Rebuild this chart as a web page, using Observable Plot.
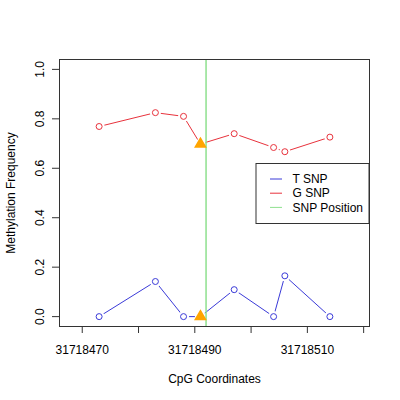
<!DOCTYPE html>
<html>
<head>
<meta charset="utf-8">
<script src="https://cdn.jsdelivr.net/npm/d3@7"></script>
<script src="https://cdn.jsdelivr.net/npm/@observablehq/plot@0.6"></script>
<style>
  html, body { margin: 0; padding: 0; background: #fff; }
  #chart { width: 400px; height: 400px; }
</style>
</head>
<body>
<div id="chart"></div>
<script>
// ---- data ----
const positions = [31718473, 31718483, 31718488, 31718491, 31718497, 31718504, 31718506, 31718514];
const tSnp = [0, 0.142, 0, 0, 0.109, 0, 0.165, 0];
const gSnp = [0.769, 0.825, 0.810, 0.698, 0.740, 0.684, 0.667, 0.726];
const snpCpG = 31718491;        // CpG marked with triangle
const snpPosition = 31718492;   // green vertical line
const xTicks = [31718470, 31718480, 31718490, 31718500, 31718510, 31718520];
const xTickLabels = ["31718470", "", "31718490", "", "31718510", ""];
const yTicks = [0, 0.2, 0.4, 0.6, 0.8, 1.0];
const yTickLabels = ["0.0", "0.2", "0.4", "0.6", "0.8", "1.0"];
const seriesNames = ["T SNP", "G SNP", "SNP Position"];
const seriesColors = ["#3a3ad8", "#e8323c", "#8ee08e"];

// ---- tables ----
const tRows = positions.map((p, i) => ({x: p, y: tSnp[i], s: "T"}));
const gRows = positions.map((p, i) => ({x: p, y: gSnp[i], s: "G"}));
const allRows = tRows.concat(gRows);
const circleRows = allRows.filter(d => d.x !== snpCpG);
const triRows = allRows.filter(d => d.x === snpCpG);

const xMin = 31718468, xMax = 31718519;
const pad = (xMax - xMin) * 0.04;
const font = "'Liberation Sans', Arial, Helvetica, sans-serif";

const chart = Plot.plot({
  width: 400,
  height: 400,
  marginLeft: 59,
  marginRight: 31,
  marginTop: 59,
  marginBottom: 74,
  style: {fontFamily: font, fontSize: "12px", background: "#fff", color: "#000"},
  x: {domain: [xMin - pad, xMax + pad], axis: null},
  y: {domain: [-0.04, 1.04], axis: null},
  marks: [
    Plot.line(tRows, {x: "x", y: "y", stroke: seriesColors[0], strokeWidth: 1}),
    Plot.line(gRows, {x: "x", y: "y", stroke: seriesColors[1], strokeWidth: 1}),
    Plot.dot(allRows, {x: "x", y: "y", r: 5.5, fill: "#fff", stroke: "none"}),
    Plot.dot(circleRows, {x: "x", y: "y", r: 3, fill: "none",
      stroke: d => d.s === "T" ? seriesColors[0] : seriesColors[1], strokeWidth: 1}),
    Plot.ruleX([snpPosition], {stroke: seriesColors[2], strokeWidth: 1.5}),
    Plot.dot(triRows, {x: "x", y: "y", symbol: "triangle", r: 3.8, fill: "#FFA500", stroke: "#FFA500"}),
    Plot.frame({stroke: "#333", strokeWidth: 1}),
    // x axis
    Plot.axisX({ticks: xTicks, tickSize: 7, tickPadding: 12, stroke: "#333", label: null,
      tickFormat: d => xTickLabels[xTicks.indexOf(d)], fontSize: 12}),
    // y axis ticks
    Plot.axisY({ticks: yTicks, tickSize: 7, stroke: "#333", label: null, tickFormat: () => ""}),
    Plot.text(yTicks, {y: d => d, frameAnchor: "left", dx: -19, rotate: -90,
      textAnchor: "middle", lineAnchor: "middle",
      text: (d, i) => yTickLabels[i], fontSize: 12, fill: "#000"}),
    // titles
    Plot.text(["CpG Coordinates"], {frameAnchor: "bottom", dy: 53, textAnchor: "middle", lineAnchor: "middle",
      text: d => d, fontSize: 12, fill: "#000"}),
    Plot.text(["Methylation Frequency"], {frameAnchor: "left", dx: -48, rotate: -90,
      textAnchor: "middle", lineAnchor: "middle", text: d => d, fontSize: 12, fill: "#000"})
  ]
});

// legend (drawn in the same svg)
const svg = d3.select(chart);
const lg = svg.append("g").attr("font-family", font).attr("font-size", 12).attr("text-anchor", "start");
lg.append("rect").attr("x", 256).attr("y", 163.5).attr("width", 113).attr("height", 60)
  .attr("fill", "#fff").attr("stroke", "#333");
seriesNames.forEach((name, i) => {
  const y = 179 + i * 14.2;
  lg.append("line").attr("x1", 270).attr("x2", 282).attr("y1", y).attr("y2", y)
    .attr("stroke", seriesColors[i]).attr("stroke-width", 1);
  lg.append("text").attr("x", 292.5).attr("y", y).attr("dy", "0.35em").attr("fill", "#000").text(name);
});

document.getElementById("chart").appendChild(chart);
</script>
</body>
</html>
